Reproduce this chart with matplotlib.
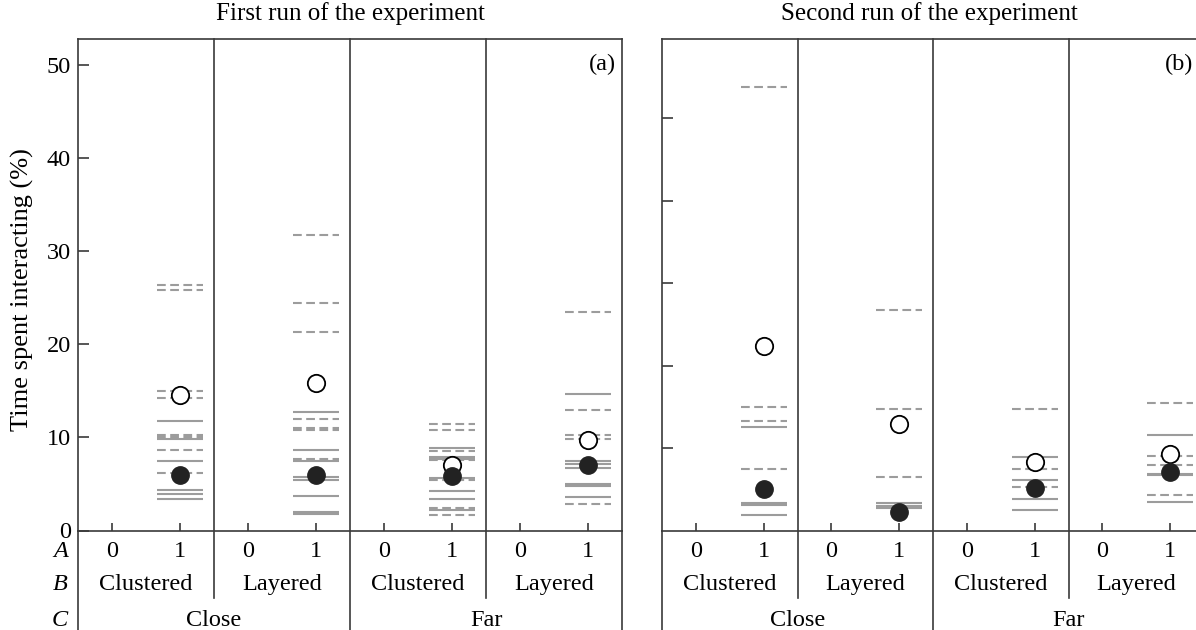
import matplotlib
matplotlib.use('Agg')
import matplotlib.pyplot as plt
import matplotlib.transforms as mtransforms

# values, one list per group (Close/Clustered, Close/Layered, Far/Clustered, Far/Layered)
run1_solid = [
    [11.8, 9.8, 7.5, 4.35, 3.9, 3.4],
    [12.7, 8.6, 7.5, 5.7, 5.4, 3.7, 1.95, 1.75],
    [8.9, 7.9, 7.7, 5.6, 4.2, 3.4, 2.2],
    [14.7, 7.5, 7.1, 6.7, 5.0, 4.8, 3.6],
]
run1_dashed = [
    [26.4, 25.9, 15.0, 14.2, 10.3, 10.1, 8.7, 6.2],
    [31.8, 24.5, 21.3, 12.0, 11.0, 10.8, 7.7],
    [11.4, 10.8, 8.5, 7.6, 5.4, 2.45, 1.7],
    [23.5, 12.9, 10.3, 9.8, 2.8],
]
run1_open = [14.6, 15.9, 7.0, 9.7]
run1_filled = [6.0, 6.0, 5.9, 7.0]

run2_solid = [
    [12.5, 3.3, 3.1, 1.9],
    [3.3, 3.0, 2.7],
    [8.9, 6.1, 3.8, 2.5],
    [11.6, 6.9, 6.7, 3.4],
]
run2_dashed = [
    [53.8, 15.0, 13.3, 7.5],
    [26.8, 14.8, 6.5],
    [14.8, 7.5, 5.3],
    [15.5, 9.0, 7.9, 4.3],
]
run2_open = [22.4, 12.9, 8.3, 9.3]
run2_filled = [5.0, 2.2, 5.2, 7.1]

a_labels = ['0', '1']
b_labels = ['Clustered', 'Layered', 'Clustered', 'Layered']
c_labels = ['Close', 'Far']
titles = ['First run of the experiment', 'Second run of the experiment']

plt.rcParams['font.family'] = ['Liberation Serif', 'DejaVu Serif']
plt.rcParams['lines.scale_dashes'] = False

FS = 17.5
GREY = '#9c9c9c'
DARK = '#3a3a3a'

fig = plt.figure(figsize=(11.96, 6.3), dpi=100)
ax1 = fig.add_axes([78 / 1196, 99.5 / 630, 544 / 1196, 491.2 / 630])
ax2 = fig.add_axes([662 / 1196, 99.5 / 630, 542 / 1196, 491.2 / 630])

ROW_A, ROW_B, ROW_C = -0.054, -0.1211, -0.1944


def draw_panel(ax, solid, dashed, opened, filled, ymax, yticks, labelled, tag, rowlabels):
    ax.set_xlim(0, 8)
    ax.set_ylim(0, ymax)
    half = 0.34
    for g in range(4):
        xc = 2 * g + 1.5
        ax.hlines(solid[g], xc - half, xc + half, colors=GREY, linewidth=1.5, zorder=2)
        ax.hlines(dashed[g], xc - half, xc + half, colors=GREY, linewidth=1.5,
                  linestyles=(0, (6.3, 3.2)), zorder=2)
        ax.plot(xc, opened[g], 'o', ms=12.5, mfc='white', mec='black', mew=1.3, zorder=4)
        ax.plot(xc, filled[g], 'o', ms=12.5, mfc='#222222', mec='#222222', zorder=5)

    for s in ax.spines.values():
        s.set_color(DARK)
        s.set_linewidth(1.2)

    trans = mtransforms.blended_transform_factory(ax.transData, ax.transAxes)
    # group dividers, running down into the label table
    for xv, ybot in [(2, -0.1374), (4, -0.25), (6, -0.1374)]:
        ax.plot([xv, xv], [1, ybot], color=DARK, lw=1.2, transform=trans, clip_on=False, zorder=3)
    for xv in [0, 8]:
        ax.plot([xv, xv], [0, -0.25], color=DARK, lw=1.2, transform=trans, clip_on=False)

    ax.set_xticks([0.5 + i for i in range(8)])
    ax.set_xticklabels([])
    ax.tick_params(axis='x', direction='in', length=6, width=1.2, color=DARK)
    ax.set_yticks(yticks)
    ax.tick_params(axis='y', direction='in', length=8, width=1.2, color=DARK,
                   pad=5, labelsize=FS, left=True, right=False)
    if not labelled:
        ax.set_yticklabels([])

    for i in range(8):
        ax.text(0.5 + i, ROW_A, a_labels[i % 2], transform=trans, ha='center',
                va='baseline', fontsize=FS)
    for g in range(4):
        ax.text(2 * g + 1, ROW_B, b_labels[g], transform=trans, ha='center',
                va='baseline', fontsize=FS)
    for c in range(2):
        ax.text(4 * c + 2, ROW_C, c_labels[c], transform=trans, ha='center',
                va='baseline', fontsize=FS)
    if rowlabels:
        for lab, yy in [('A', ROW_A), ('B', ROW_B), ('C', ROW_C)]:
            ax.text(-0.15, yy, lab, transform=trans, ha='right', va='baseline',
                    fontsize=FS, style='italic')
    ax.text(tag[1], 0.9497, tag[0], transform=ax.transAxes, ha='right', va='center', fontsize=FS)


draw_panel(ax1, run1_solid, run1_dashed, run1_open, run1_filled, 52.8,
           [0, 10, 20, 30, 40, 50], True, ('(a)', 0.989), True)
draw_panel(ax2, run2_solid, run2_dashed, run2_open, run2_filled, 59.6,
           [10, 20, 30, 40, 50], False, ('(b)', 0.98), False)

fig.text(350 / 1196, 1 - 14 / 630, titles[0], ha='center', va='center', fontsize=18)
fig.text(929 / 1196, 1 - 14 / 630, titles[1], ha='center', va='center', fontsize=18)
fig.text(22 / 1196, 1 - 290 / 630, 'Time spent interacting (%)', rotation=90,
         ha='center', va='center', fontsize=19)

fig.savefig('out.png', dpi=100)
